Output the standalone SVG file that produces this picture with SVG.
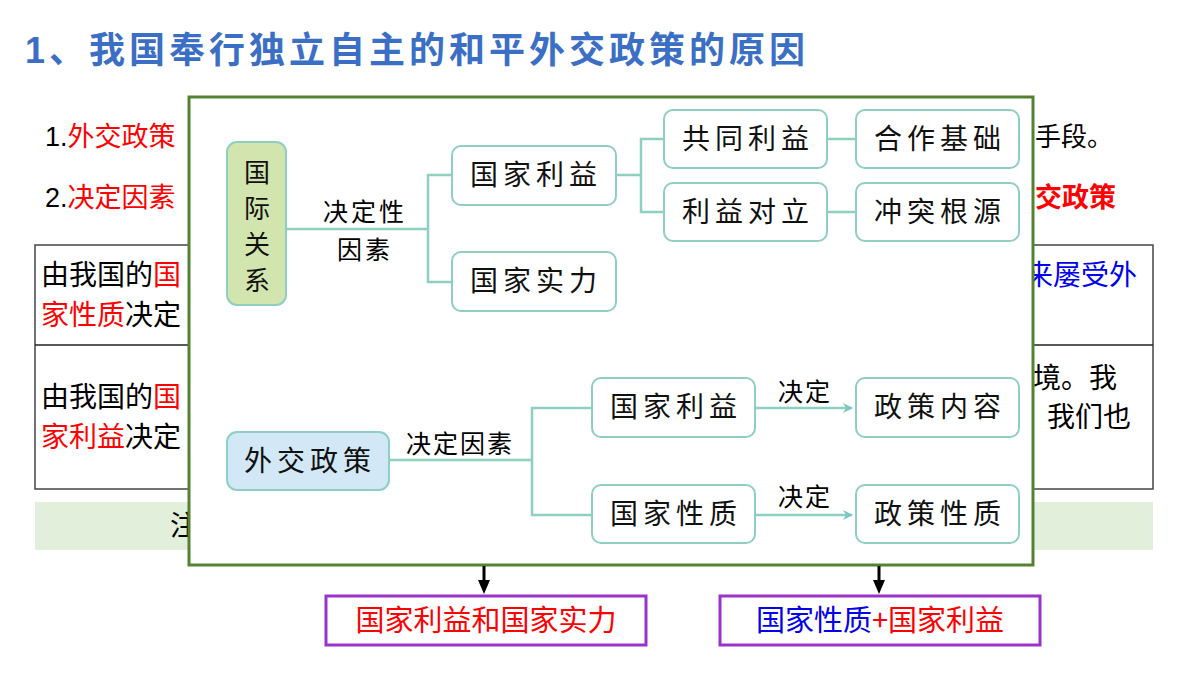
<svg xmlns="http://www.w3.org/2000/svg" width="1200" height="675" viewBox="0 0 1200 675">
<defs>
<style>
.t{font-family:"Liberation Sans","Noto Sans CJK SC",sans-serif}
.c{font-family:"Noto Sans CJK SC",sans-serif}
.b{fill:#fff;stroke:#8ECFC1;stroke-width:2}
.l{fill:none;stroke:#8ECFC1;stroke-width:2.5}
.n{font-family:"Noto Sans CJK SC",sans-serif;font-size:28px;letter-spacing:5px;text-anchor:middle;fill:#111}
.v{font-family:"Noto Sans CJK SC",sans-serif;font-size:26px;text-anchor:middle;fill:#111}
.r{fill:#FF0000}
</style>
<marker id="ta" markerWidth="10" markerHeight="10" refX="9" refY="5" orient="auto" markerUnits="userSpaceOnUse"><path d="M0,0 L10,5 L0,10 L3,5 Z" fill="#7CC8C0"/></marker>
</defs>
<rect width="1200" height="675" fill="#fff"/>
<text class="t" x="25" y="63" font-size="36" font-weight="bold" fill="#3B6FC6" textLength="780">1、我国奉行独立自主的和平外交政策的原因</text>
<text class="t" x="45" y="146" font-size="27">1.<tspan class="r">外交政策</tspan></text>
<text class="t" x="1035" y="146" font-size="26">手段。</text>
<text class="t" x="45" y="207" font-size="27">2.<tspan class="r">决定因素</tspan></text>
<text class="t" x="1035" y="207" font-size="27" font-weight="bold" fill="#f00">交政策</text>
<rect x="35" y="245" width="1118" height="244" fill="none" stroke="#444" stroke-width="1.5"/>
<line x1="35" y1="345" x2="1153" y2="345" stroke="#222" stroke-width="1.5"/>
<g class="c" font-size="28">
<text x="41" y="285">由我国的<tspan class="r">国</tspan></text>
<text x="41" y="325"><tspan class="r">家性质</tspan>决定</text>
<text x="1025" y="285" fill="#0000EE">来屡受外</text>
<text x="41" y="407">由我国的<tspan class="r">国</tspan></text>
<text x="41" y="447"><tspan class="r">家利益</tspan>决定</text>
<text x="1005" y="388">环境。我</text>
<text x="1047" y="427">我们也</text>
</g>
<rect x="35" y="502" width="1118" height="48" fill="#E2EFDA"/>
<text class="c" x="170" y="536" font-size="28">注</text>

<rect x="189" y="97" width="844" height="468" fill="#fff" stroke="#548235" stroke-width="3"/>

<g id="connectors">
<polyline class="l" points="286,229 428,229"/>
<polyline class="l" points="452,175 428,175 428,282 452,282"/>
<polyline class="l" points="616,175 641,175"/>
<polyline class="l" points="664,139 641,139 641,212 664,212"/>
<line class="l" x1="827" y1="139" x2="856" y2="139"/>
<line class="l" x1="827" y1="212" x2="856" y2="212"/>
<polyline class="l" points="389,460 532,460"/>
<polyline class="l" points="592,408 532,408 532,515 592,515"/>
<line class="l" x1="755" y1="408" x2="852" y2="408" marker-end="url(#ta)"/>
<line class="l" x1="755" y1="515" x2="852" y2="515" marker-end="url(#ta)"/>
<line x1="484" y1="566" x2="484" y2="582" stroke="#000" stroke-width="3"/>
<path d="M478,580 L490,580 L484,594 Z"/>
<line x1="879" y1="566" x2="879" y2="582" stroke="#000" stroke-width="3"/>
<path d="M873,580 L885,580 L879,594 Z"/>
<text class="c" x="365" y="221" font-size="25" letter-spacing="3" text-anchor="middle">决定性</text>
<text class="c" x="365" y="259" font-size="25" letter-spacing="3" text-anchor="middle">因素</text>
<text class="c" x="460" y="453" font-size="25" letter-spacing="2" text-anchor="middle">决定因素</text>
<text class="c" x="805" y="401" font-size="25" letter-spacing="2" text-anchor="middle">决定</text>
<text class="c" x="805" y="506" font-size="25" letter-spacing="2" text-anchor="middle">决定</text>
</g>

<g id="n-gjgx"><rect x="227" y="142" width="59" height="163" rx="10" fill="#D3E5AE" stroke="#8ECFC1" stroke-width="2"/>
<g class="v"><text x="257" y="182">国</text><text x="257" y="218">际</text><text x="257" y="254">关</text><text x="257" y="290">系</text></g></g>
<g id="n-gjly1"><rect class="b" x="452" y="146" width="164" height="59" rx="9"/><text class="n" x="536" y="185">国家利益</text></g>
<g id="n-gjsl"><rect class="b" x="452" y="252" width="164" height="59" rx="9"/><text class="n" x="536" y="291">国家实力</text></g>
<g id="n-gtly"><rect class="b" x="664" y="110" width="163" height="58" rx="9"/><text class="n" x="748" y="149">共同利益</text></g>
<g id="n-lydl"><rect class="b" x="664" y="183" width="163" height="58" rx="9"/><text class="n" x="748" y="222">利益对立</text></g>
<g id="n-hzjc"><rect class="b" x="856" y="110" width="163" height="58" rx="9"/><text class="n" x="940" y="149">合作基础</text></g>
<g id="n-ctgy"><rect class="b" x="856" y="183" width="163" height="58" rx="9"/><text class="n" x="940" y="222">冲突根源</text></g>
<g id="n-wjzc"><rect x="227" y="432" width="162" height="58" rx="10" fill="#D2E8F6" stroke="#8ECFC1" stroke-width="2"/><text class="n" x="310" y="471">外交政策</text></g>
<g id="n-gjly2"><rect class="b" x="592" y="378" width="163" height="59" rx="9"/><text class="n" x="676" y="417">国家利益</text></g>
<g id="n-gjxz"><rect class="b" x="592" y="485" width="163" height="58" rx="9"/><text class="n" x="676" y="524">国家性质</text></g>
<g id="n-zcnr"><rect class="b" x="856" y="378" width="163" height="59" rx="9"/><text class="n" x="940" y="417">政策内容</text></g>
<g id="n-zcxz"><rect class="b" x="856" y="485" width="163" height="58" rx="9"/><text class="n" x="940" y="524">政策性质</text></g>

<g id="n-ans1"><rect x="326" y="596" width="320" height="49" fill="#fff" stroke="#9933CC" stroke-width="3"/><text class="c" x="486" y="631" font-size="29" text-anchor="middle" fill="#f00">国家利益和国家实力</text></g>
<g id="n-ans2"><rect x="720" y="596" width="320" height="49" fill="#fff" stroke="#9933CC" stroke-width="3"/><text class="c" x="880" y="631" font-size="29" text-anchor="middle"><tspan fill="#0000EE">国家性质</tspan><tspan fill="#f00">+国家利益</tspan></text></g>
</svg>
